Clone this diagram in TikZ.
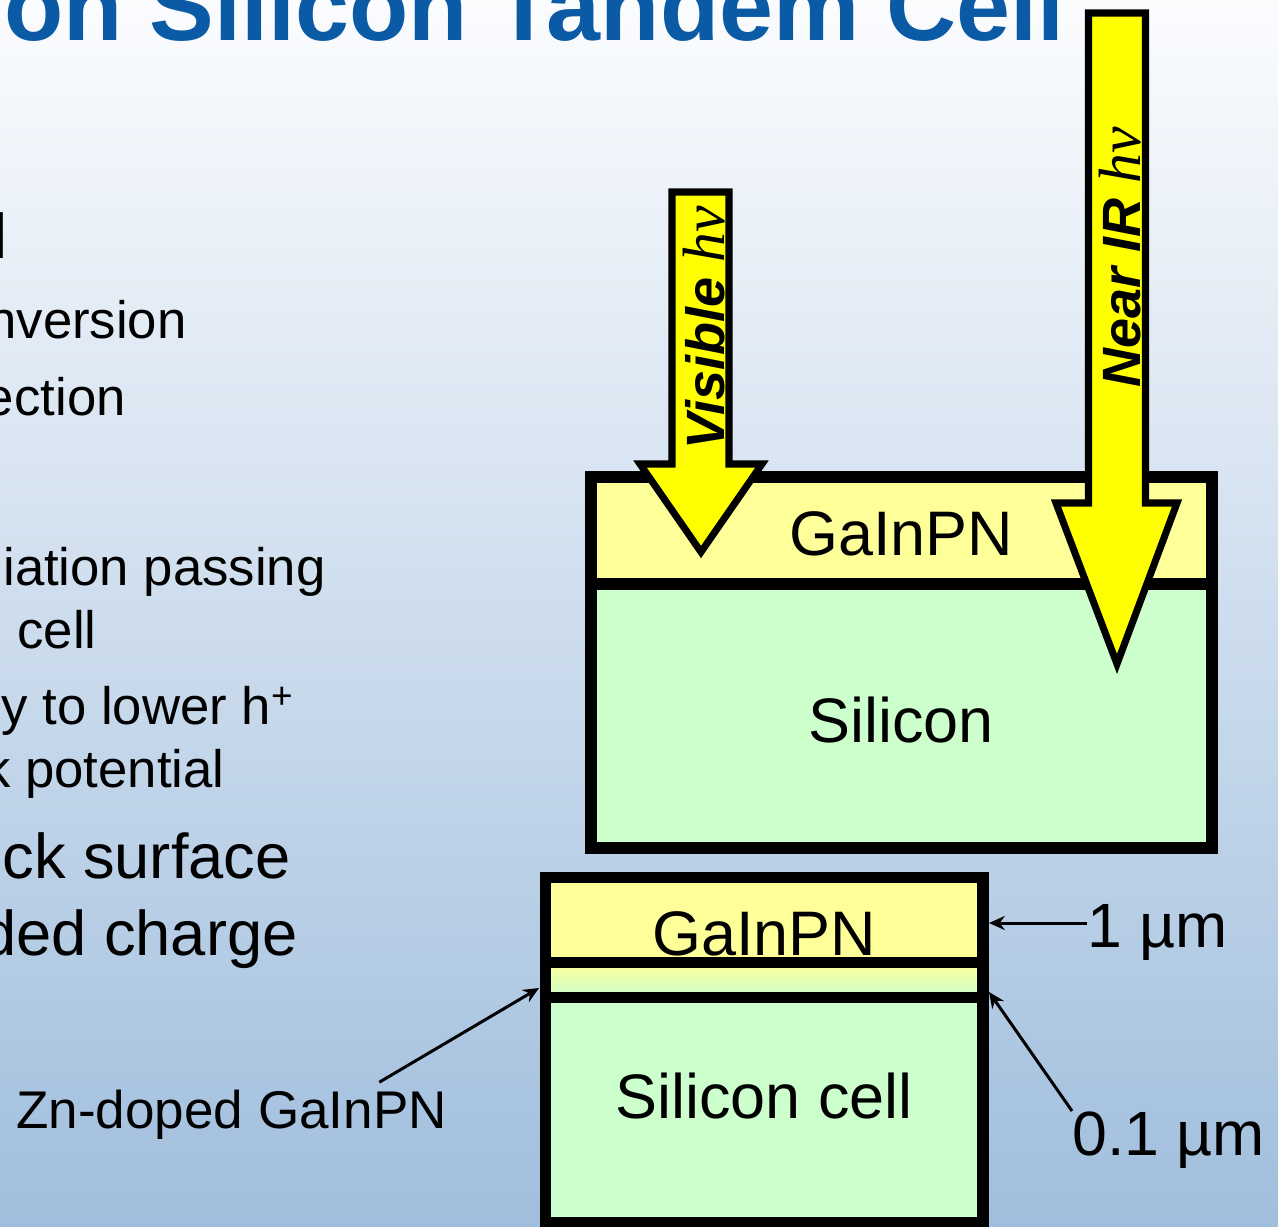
\documentclass[tikz,border=0pt]{standalone}
\usepackage{fontspec}
\setmainfont{Liberation Sans}
\newfontfamily\timesfont{Liberation Serif}
\usetikzlibrary{arrows.meta,calc,positioning}
\definecolor{slidetop}{RGB}{251,252,254}
\definecolor{slidebot}{RGB}{160,190,221}
\definecolor{titleblue}{RGB}{10,90,166}
\definecolor{gainpn}{RGB}{255,255,153}
\definecolor{silicon}{RGB}{204,255,204}
\definecolor{photon}{RGB}{255,255,0}
\newcommand{\pxfont}[1]{\fontsize{#1}{#1}\selectfont}
\newcommand{\hvsym}{{\timesfont\mdseries\itshape\fontsize{34pt}{34pt}\selectfont hv}}

\begin{document}
\begin{tikzpicture}[x=0.02cm,y=-0.02cm,>={Stealth[length=9pt,width=8pt]},
bullet/.style = {inner sep=0pt, anchor=base east, font=\pxfont{30pt}},
bigbullet/.style = {bullet, font=\pxfont{36pt}},
layertext/.style = {inner sep=0pt, anchor=base, font=\pxfont{35.8pt}},
cellline/.style = {line width=6.3pt},
photonarrow/.style = {draw, fill=photon, line width=4pt, line join=miter},
photonlabel/.style = {inner sep=0pt, anchor=base west, rotate=90, font=\pxfont{30.7pt}\bfseries\itshape},
dimlabel/.style = {inner sep=0pt, anchor=base west, font=\pxfont{35.6pt}},
dimline/.style = {->, line width=1.7pt},]
\useasboundingbox (0,0) rectangle (1278,1227);
\clip (0,0) rectangle (1278,1227);
\fill[top color=slidetop, bottom color=slidebot] (0,0) rectangle (1278,1227);

% title and the cut-off slide text
\node (title) at (4,40)[inner sep=0pt, anchor=base west, text=titleblue, font=\pxfont{55.2pt}\bfseries] {on Silicon Tandem Cell};
\node (b1) at (8,258)[bigbullet] {l};
\node (b2) at (187,338)[bullet] {nversion};
\node (b3) at (126,415)[bullet] {ection};
\node (b4) at (326,585)[bullet] {iation passing};
\node (b5) at (97,648)[bullet] {cell};
\node (b6) at (294,724)[bullet] {y to lower h\textsuperscript{+}};
\node (b7) at (225,787)[bullet] {k potential};
\node (b8) at (291,878)[bigbullet] {ck surface};
\node (b9) at (298,955)[bigbullet] {ded charge};

% tandem cell
\fill[gainpn] (591,477) rectangle (1212,584);
\fill[silicon] (591,584) rectangle (1212,848);
\draw[cellline] (591,477) rectangle (1212,848) (591,584)--(1212,584);
\node (topgainpn) at (901,555)[layertext] {GaInPN};
\node (topsi) at (901,742)[layertext] {Silicon};

% photons
\draw[photonarrow] (672,192)--(729,192)--(729,464)--(762,464)--(701,552)--(640,464)--(672,464)--cycle;
\node (vis) at (724,450)[photonlabel] {Visible \hvsym};
\draw[photonarrow] (1088.5,13)--(1145.5,13)--(1145.5,503)--(1177,503)--(1117,664)--(1056,503)--(1088.5,503)--cycle;
\node (nir) at (1140,388)[photonlabel] {Near IR \hvsym};

% layer stack
\fill[gainpn] (545.5,877.5) rectangle (983,962.5);
\shade[top color=gainpn, bottom color=silicon] (545.5,962.5) rectangle (983,997.5);
\fill[silicon] (545.5,997.5) rectangle (983,1223);
\draw[cellline] (545.5,877.5) rectangle (983,1223) (545.5,962.5)--(983,962.5) (545.5,997.5)--(983,997.5);
\node (lowgainpn) at (764,955)[layertext] {GaInPN};
\node (lowsi) at (764,1118)[layertext] {Silicon cell};

% dimensions
\coordinate (tipum1) at (989,923);
\coordinate (tipum2) at (989,992);
\coordinate (tipzn) at (539,988);
\node (um1) at (1087,947)[dimlabel] {1 µm};
\node (um2) at (1072,1155)[dimlabel] {0.1 µm};
\node (zn) at (16,1128)[inner sep=0pt, anchor=base west, font=\pxfont{30.2pt}] {Zn-doped GaInPN};
\draw[dimline] (um1.west |- tipum1)--(tipum1);
\draw[dimline] (um2.north west)--(tipum2);
\draw[dimline] ($(zn.north east)+(-68,-7)$)--(tipzn);
\end{tikzpicture}
\end{document}
